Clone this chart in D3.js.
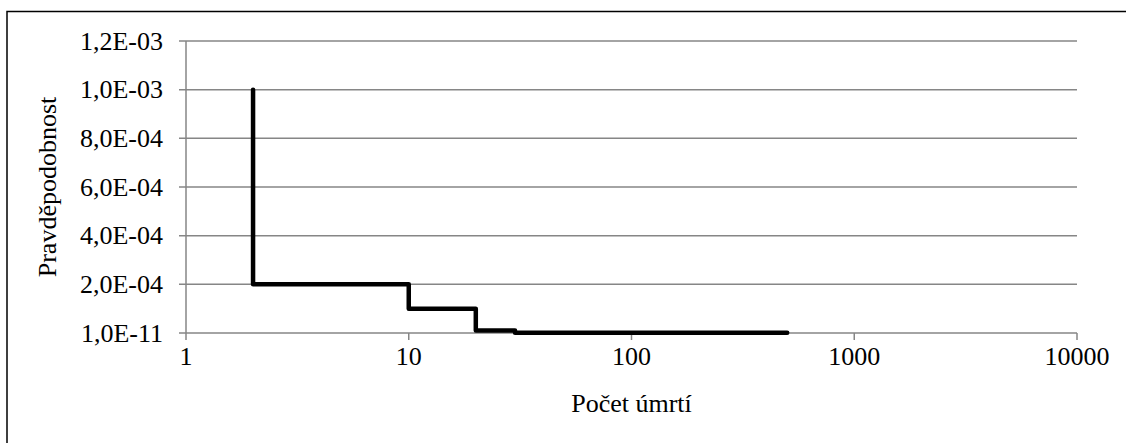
<!DOCTYPE html>
<html>
<head>
<meta charset="utf-8">
<script src="https://cdn.jsdelivr.net/npm/d3@7"></script>
<style>
  body { margin: 0; background: #fff; }
  svg text { font-family: "Liberation Serif", "Times New Roman", serif; fill: #000; }
</style>
</head>
<body>
<div id="chart"></div>
<script>
// step points (deaths, probability)
var deaths = [2, 2, 10, 20, 30, 500];
var probs = [1e-3, 2e-4, 1e-4, 1e-5, 1e-6, 1e-6];
var xTicks = [1, 10, 100, 1000, 10000];
var yTicks = [1e-11, 2e-4, 4e-4, 6e-4, 8e-4, 1e-3, 1.2e-3];

var width = 1126, height = 443;
var margin = {top: 41, right: 49, bottom: 110, left: 186};
var fs = 26;

var svg = d3.select("#chart").append("svg")
  .attr("width", width)
  .attr("height", height);

// outer frame (runs off the right/bottom edge like the original)
svg.append("rect")
  .attr("x", 7).attr("y", 11.5)
  .attr("width", 1130).attr("height", 440)
  .attr("fill", "none").attr("stroke", "#000").attr("stroke-width", 1.5);

var x = d3.scaleLog().domain([1, 10000]).range([margin.left, width - margin.right]);
var y = d3.scaleLinear().domain([0, 1.2e-3]).range([height - margin.bottom, margin.top]);

function fmt(v) {
  var s = v.toExponential(1).split("e");
  var e = +s[1];
  var es = (e < 0 ? "-" : "+") + (Math.abs(e) < 10 ? "0" : "") + Math.abs(e);
  return s[0].replace(".", ",") + "E" + es;
}

// horizontal gridlines
svg.append("g").selectAll("line").data(yTicks).enter().append("line")
  .attr("x1", x(1) - 7).attr("x2", x(10000))
  .attr("y1", function(d) { return y(d); })
  .attr("y2", function(d) { return y(d); })
  .attr("stroke", "#868686").attr("stroke-width", 1.5);

// y axis line
svg.append("line")
  .attr("x1", x(1)).attr("x2", x(1))
  .attr("y1", y(1.2e-3)).attr("y2", y(0) + 7)
  .attr("stroke", "#868686").attr("stroke-width", 1.5);

// x ticks
svg.append("g").selectAll("line").data(xTicks.slice(1)).enter().append("line")
  .attr("x1", function(d) { return x(d); })
  .attr("x2", function(d) { return x(d); })
  .attr("y1", y(0)).attr("y2", y(0) + 7)
  .attr("stroke", "#868686").attr("stroke-width", 1.5);

// y labels
svg.append("g").selectAll("text").data(yTicks).enter().append("text")
  .attr("x", 163)
  .attr("y", function(d) { return y(d) + 8.5; })
  .attr("text-anchor", "end")
  .attr("font-size", fs)
  .text(fmt);

// x labels
svg.append("g").selectAll("text").data(xTicks).enter().append("text")
  .attr("x", function(d) { return x(d); })
  .attr("y", 365)
  .attr("text-anchor", "middle")
  .attr("font-size", fs)
  .text(function(d) { return d; });

// axis titles
svg.append("text")
  .attr("x", x(100)).attr("y", 412)
  .attr("text-anchor", "middle")
  .attr("font-size", fs)
  .text("Počet úmrtí");

svg.append("text")
  .attr("transform", "translate(56," + y(6e-4) + ") rotate(-90)")
  .attr("text-anchor", "middle")
  .attr("font-size", fs)
  .text("Pravděpodobnost");

// step line
var line = d3.line()
  .x(function(d, i) { return x(deaths[i]); })
  .y(function(d) { return y(d); })
  .curve(d3.curveStepAfter);

svg.append("path")
  .datum(probs)
  .attr("d", line)
  .attr("fill", "none")
  .attr("stroke", "#000")
  .attr("stroke-width", 4.5)
  .attr("stroke-linejoin", "round")
  .attr("stroke-linecap", "round");
</script>
</body>
</html>
